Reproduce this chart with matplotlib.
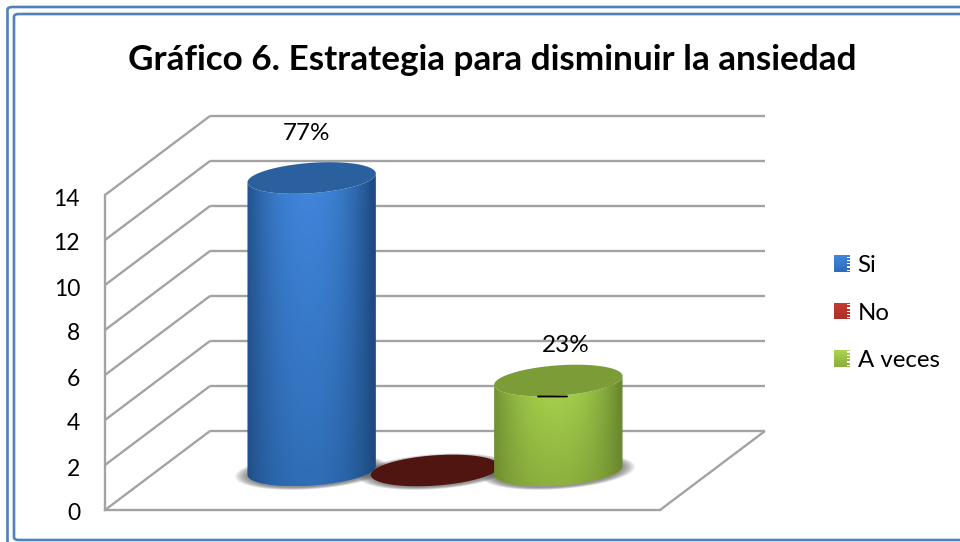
import numpy as np
import matplotlib
matplotlib.use("Agg")
import matplotlib.pyplot as plt
from matplotlib.colors import to_rgb
from matplotlib.legend_handler import HandlerBase
from matplotlib.patches import Patch, PathPatch, Polygon, Rectangle, FancyBboxPatch
from matplotlib.path import Path
from matplotlib.transforms import ScaledTranslation

TITLE = "Gráfico 6. Estrategia para disminuir la ansiedad"
series = ["Si", "No", "A veces"]
values = [13, 0, 4]
percent_labels = ["77%", None, "23%"]
y_ticks = [0, 2, 4, 6, 8, 10, 12, 14]

# light centre, dark edge, lower centre, cap colour
blue = ("#4086DC", "#1E4C82", "#2F6DB6", "#2B609F")
red = ("#C8392F", "#8E2A24", "#A8322A", "#501510")
green = ("#A8D44E", "#6B8A2F", "#8DB03E", "#7B9C36")
palette = [blue, red, green]
GRID = "#a3a3a3"

plt.rcParams["font.family"] = ["Lato", "DejaVu Sans"]

W, H = 960, 542
fig = plt.figure(figsize=(W / 100, H / 100), dpi=100, facecolor="white")
ax = fig.add_axes([105 / W, (H - 510) / H, 555 / W, 315 / H], facecolor="none")
ax.set_xlim(0, 4.5)
ax.set_ylim(0, 14)

DX, DV = 105 / (555 / 4.5), 79 / (315 / 14)


def project(x, v, d):
    """Oblique projection of (slot, value, depth) onto the axes' data plane."""
    return x + d * DX, v + d * DV


def wall_line(p, q):
    (x0, v0), (x1, v1) = project(*p), project(*q)
    ax.plot([x0, x1], [v0, v1], color=GRID, lw=1.7, clip_on=False, zorder=1,
            solid_capstyle="butt")


for v in y_ticks:
    wall_line((0, v, 1), (4.5, v, 1))
    wall_line((0, v, 0), (0, v, 1))
wall_line((4.5, 0, 0), (4.5, 0, 1))

for side in ("top", "right"):
    ax.spines[side].set_visible(False)
for side in ("left", "bottom"):
    ax.spines[side].set_color(GRID)
    ax.spines[side].set_linewidth(1.7)
ax.set_xticks([])
ax.set_yticks(y_ticks)
ax.tick_params(axis="y", length=0, pad=18, labelsize=16.5, labelcolor="black")
# tick labels sit slightly below their gridlines
label_shift = ScaledTranslation(0, -2 / 72 * 72 / 100, fig.dpi_scale_trans)
for lab in ax.get_yticklabels():
    lab.set_transform(lab.get_transform() + label_shift)

RX, RD = 0.5, 0.2
SHEAR = RD * DX * 0.85
T_EDGE = np.arctan2(SHEAR, RX)


def ellipse(xc, v, t):
    # footprint circle, with the depth shear eased a little for a rounder look
    x = xc + RX * np.cos(t) + SHEAR * np.sin(t)
    return x + 0.5 * DX, v + 0.5 * DV + RD * DV * np.sin(t)


def ellipse_poly(xc, v, **kw):
    x, y = ellipse(xc, v, np.linspace(0, 2 * np.pi, 160))
    return Polygon(np.column_stack([x, y]), closed=True, clip_on=False, **kw)


def soft_shadow(xc):
    # stacked translucent ellipses build the blurred floor shadow
    t = np.linspace(0, 2 * np.pi, 120)
    for f in np.linspace(1.0, 0.0, 14):
        gx, gy = 1 + 0.20 * f, 1 + 0.16 * f
        x = xc + 0.5 * DX + RX * gx * np.cos(t) + SHEAR * gy * np.sin(t)
        y = 0.5 * DV + RD * DV * gy * np.sin(t) - 0.05
        ax.add_patch(Polygon(np.column_stack([x, y]), closed=True, clip_on=False,
                             fc="#444444", ec="none", alpha=0.055, zorder=2))


def side_image(colors):
    light, edge, low, _ = [np.array(to_rgb(c)) for c in colors]
    u = np.linspace(-1, 1, 128)
    vv = np.linspace(0, 1, 64)[:, None, None]
    shade = (1 - np.clip(np.abs(u + 0.05), 0, 1) ** 2.2)[None, :, None]
    centre = light[None, None, :] * vv + low[None, None, :] * (1 - vv)
    return centre * shade + edge[None, None, :] * (1 - shade)


for i, (value, colors) in enumerate(zip(values, palette)):
    xc = 0.75 + i + 0.5
    z = 3 + i
    soft_shadow(xc)
    if value == 0:
        ax.add_patch(ellipse_poly(xc, 0, fc=colors[3], ec="none", zorder=z))
        continue
    front = np.linspace(np.pi + T_EDGE, 2 * np.pi + T_EDGE, 80)
    back = front[::-1]
    xb, yb = ellipse(xc, 0, front)
    xt, yt = ellipse(xc, value, back)
    outline = np.column_stack([np.r_[xb, xt], np.r_[yb, yt]])
    clip = PathPatch(Path(np.vstack([outline, outline[:1]]), closed=True),
                     fc="none", ec="none", transform=ax.transData)
    ax.add_patch(clip)
    im = ax.imshow(side_image(colors),
                   extent=(outline[:, 0].min(), outline[:, 0].max(),
                           outline[:, 1].min(), outline[:, 1].max()),
                   origin="lower", aspect="auto", interpolation="bilinear", zorder=z)
    im.set_clip_box(fig.bbox)
    im.set_clip_path(clip)
    ax.add_patch(ellipse_poly(xc, value, fc=colors[3], ec="none", zorder=z + 0.1))

ax.set_xlim(0, 4.5)
ax.set_ylim(0, 14)

label_anchor = {0: (307, 134), 2: (566, 346)}
for i, text in enumerate(percent_labels):
    if text is None:
        continue
    lx, ly = label_anchor[i]
    ax.annotate(text, xy=(lx, H - ly), xycoords="figure pixels", ha="center", va="center",
                fontsize=17.5, color="black", annotation_clip=False, zorder=8)

# short leader mark on the A veces cap
ax.annotate("", xy=(538, H - 396.5), xytext=(567, H - 396.5), xycoords="figure pixels",
            textcoords="figure pixels", zorder=8,
            arrowprops=dict(arrowstyle="-", color="black", lw=1.3, shrinkA=0, shrinkB=0))


class GradientSwatch(HandlerBase):
    def create_artists(self, legend, orig, xd, yd, width, height, fontsize, trans):
        light, edge = [np.array(to_rgb(c)) for c in orig.colors]
        artists = []
        n = 8
        for k in range(n):
            c = light + (edge - light) * k / (n - 1)
            artists.append(Rectangle((-xd, -yd + height * (1 - (k + 1) / n)), width,
                                     height / n + 0.2, fc=c, ec="none", transform=trans))
        for k in range(5):
            artists.append(Rectangle((-xd + width * 0.8, -yd + height * (k + 0.3) / 5),
                                     width * 0.2, height * 0.08, fc="white", ec="none",
                                     transform=trans))
        return artists


class Swatch(Patch):
    def __init__(self, colors, label):
        super().__init__(label=label)
        self.colors = (colors[0], colors[2])


handles = [Swatch(c, s) for c, s in zip(palette, series)]
fig.legend(handles=handles, labels=series, loc="upper left",
           bbox_to_anchor=(827 / W, (H - 248) / H), frameon=False, fontsize=17.3,
           handlelength=0.67, handleheight=0.67, handletextpad=0.3,
           labelspacing=1.1, borderpad=0.3, borderaxespad=0,
           handler_map={Swatch: GradientSwatch()})

fig.text(492 / W, 1 - 60 / H, TITLE, ha="center", va="center", fontsize=25.3,
         fontweight="bold", color="black")

# double rule around the chart; its right side runs past the image edge
for (x0, y0, x1, y1) in [(7.5, 7, 975, 550), (14, 14, 968, 540)]:
    fig.add_artist(FancyBboxPatch((x0 / W, 1 - y1 / H), (x1 - x0) / W, (y1 - y0) / H,
                                  boxstyle="round,pad=0,rounding_size=0.005",
                                  transform=fig.transFigure, fc="none", ec="#4F81BD",
                                  lw=1.9, clip_on=False))

fig.savefig("out.png", dpi=100)
